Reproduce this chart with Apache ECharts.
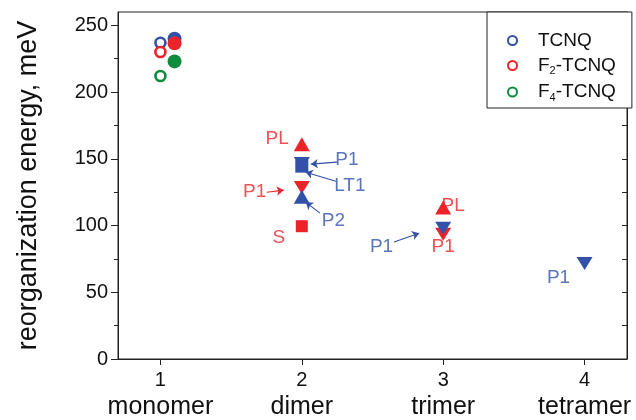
<!DOCTYPE html>
<html>
<head>
<meta charset="utf-8">
<script src="https://cdn.jsdelivr.net/npm/echarts@6/dist/echarts.min.js"></script>
<style>html,body{margin:0;padding:0;background:#fff;}#c{width:636px;height:420px;}</style>
</head>
<body>
<div id="c"></div>
<script>
// ---- data ----
var categoryTicks = [1, 2, 3, 4];
var categoryNames = ['monomer', 'dimer', 'trimer', 'tetramer'];
var yMajorTicks = [0, 50, 100, 150, 200, 250];
var yMinorTicks = [25, 75, 125, 175, 225];
var yAllTicks = [25, 50, 75, 100, 125, 150, 175, 200, 225, 250];

var tcnqOpen = [[1, 237]];
var f2Open = [[1, 230]];
var f4Open = [[1, 212]];
var tcnqFilled = [[1.1, 240]];
var f2Filled = [[1.1, 236.5]];
var f4Filled = [[1.1, 223]];

var redUp = [[2, 161], [3, 113.5]];        // PL
var redDown = [[2, 128.5], [3, 93.5]];     // P1
var redSquare = [[2, 99.5]];               // S
var blueDown = [[2, 146.5], [3, 98], [4, 71.5]]; // P1
var blueSquare = [[2, 144.5]];             // LT1
var blueUp = [[2, 121.5]];                 // P2

var redNotes = [[1.826, 165, 'PL'], [1.667, 125.4, 'P1'], [1.837, 90.9, 'S'], [3.071, 114.5, 'PL'], [3.0, 84.2, 'P1']];
var blueNotes = [[2.319, 149.3, 'P1'], [2.340, 129.9, 'LT1'], [2.223, 103.7, 'P2'], [2.564, 84.2, 'P1'], [3.816, 61.0, 'P1']];

var blueArrows = [
  [[2.248, 147.5], [2.064, 146]],
  [[2.241, 133.2], [2.028, 140]],
  [[2.128, 109.3], [2.028, 117.5]],
  [[2.652, 87.6], [2.830, 94.3]]
];
var redArrows = [
  [[1.752, 125], [1.872, 126.5]]
];

var BLUE = '#3152a8', RED = '#ec2329', GREEN = '#108a3c';
var FONT = '"Liberation Sans", Arial, sans-serif';

function openSeries(name, data, color) {
  return { name: name, type: 'scatter', data: data, symbol: 'circle', symbolSize: 10, z: 3,
    itemStyle: { color: '#fff', borderColor: color, borderWidth: 2.6, opacity: 1 } };
}
function filled(data, color, symbol, size, rot, z) {
  return { type: 'scatter', data: data, symbol: symbol, symbolSize: size, symbolRotate: rot || 0, z: z || 3,
    itemStyle: { color: color, opacity: 1 } };
}
function notes(data, color) {
  return { type: 'scatter', data: data, symbolSize: 0, z: 1, silent: true,
    label: { show: true, position: 'inside', formatter: function (p) { return p.data[2]; },
      color: color, fontSize: 19, fontFamily: FONT } };
}
function arrows(list, color) {
  return { type: 'lines', coordinateSystem: 'cartesian2d', z: 2, silent: true,
    data: list.map(function (c) { return { coords: c }; }),
    symbol: ['none', 'arrow'], symbolSize: 7,
    lineStyle: { color: color, width: 1.1, opacity: 1, curveness: 0 } };
}

var chart = echarts.init(document.getElementById('c'), null, { renderer: 'canvas' });
chart.setOption({
  animation: false,
  textStyle: { fontFamily: FONT },
  grid: { left: 118, right: 9, top: 12, bottom: 61, show: true, borderColor: '#222', borderWidth: 1, backgroundColor: 'transparent' },
  legend: {
    left: 487, top: 12, orient: 'vertical', selectedMode: false,
    backgroundColor: '#fff', borderColor: '#222', borderWidth: 1,
    padding: [19, 16, 5, 20], itemGap: 6, itemWidth: 41, itemHeight: 9,
    data: ['TCNQ', 'F2-TCNQ', 'F4-TCNQ'],
    formatter: function (n) {
      var m = n.match(/^F(\d)(.*)$/);
      if (m) return '{m|F}{s|' + m[1] + '}{m|' + m[2] + '}';
      return '{m|' + n + '}';
    },
    textStyle: {
      fontFamily: FONT, color: '#111',
      rich: {
        m: { fontSize: 19, lineHeight: 22, fontFamily: FONT, color: '#111' },
        s: { fontSize: 11, lineHeight: 2, verticalAlign: 'bottom', fontFamily: FONT, color: '#111' }
      }
    }
  },
  xAxis: {
    type: 'value', min: 0.7, max: 4.3,
    axisLine: { show: true, onZero: false, lineStyle: { color: '#222', width: 1 } },
    axisTick: { show: true, length: 6, customValues: categoryTicks, lineStyle: { color: '#222' } },
    axisLabel: {
      show: true, customValues: categoryTicks, margin: 7, color: '#111',
      formatter: function (v) { return '{n|' + v + '}\n{w|' + categoryNames[Math.round(v) - 1] + '}'; },
      rich: {
        n: { fontSize: 20, lineHeight: 28, fontFamily: FONT, color: '#111' },
        w: { fontSize: 25, lineHeight: 26, fontFamily: FONT, color: '#111' }
      }
    },
    splitLine: { show: false }
  },
  yAxis: [
    {
      type: 'value', min: 0, max: 260, position: 'left',
      name: 'reorganization energy, meV', nameLocation: 'middle', nameGap: 76,
      nameTextStyle: { fontSize: 27, fontFamily: FONT, color: '#111' },
      axisLine: { show: true, onZero: false, lineStyle: { color: '#222', width: 1 } },
      axisTick: { show: true, length: 7, customValues: yMajorTicks, lineStyle: { color: '#222' } },
      axisLabel: { show: true, customValues: yMajorTicks, margin: 10, fontSize: 20, color: '#111', fontFamily: FONT },
      splitLine: { show: false }
    },
    {
      type: 'value', min: 0, max: 260, position: 'left',
      axisLine: { show: false },
      axisTick: { show: true, length: 4, customValues: yMinorTicks, lineStyle: { color: '#222' } },
      axisLabel: { show: false }, splitLine: { show: false }
    },
    {
      type: 'value', min: 0, max: 260, position: 'right',
      axisLine: { show: true, lineStyle: { color: '#222', width: 1 } },
      axisTick: { show: true, inside: true, length: 5, customValues: yAllTicks, lineStyle: { color: '#222' } },
      axisLabel: { show: false }, splitLine: { show: false }
    }
  ],
  series: [
    openSeries('TCNQ', tcnqOpen, BLUE),
    openSeries('F2-TCNQ', f2Open, RED),
    openSeries('F4-TCNQ', f4Open, GREEN),
    filled(tcnqFilled, BLUE, 'circle', 14, 0, 3),
    filled(f2Filled, RED, 'circle', 14, 0, 3),
    filled(f4Filled, GREEN, 'circle', 14, 0, 3),
    filled(redUp, RED, 'triangle', [16, 14], 0, 3),
    filled(redDown, RED, 'triangle', [16, 13], 180, 3),
    filled(redSquare, RED, 'rect', 12, 0, 3),
    filled(blueDown, BLUE, 'triangle', [16, 13], 180, 4),
    filled(blueSquare, BLUE, 'rect', 13, 0, 4),
    filled(blueUp, BLUE, 'triangle', [16, 14], 0, 4),
    notes(redNotes, RED),
    notes(blueNotes, BLUE),
    arrows(blueArrows, BLUE),
    arrows(redArrows, RED)
  ]
});
</script>
</body>
</html>
